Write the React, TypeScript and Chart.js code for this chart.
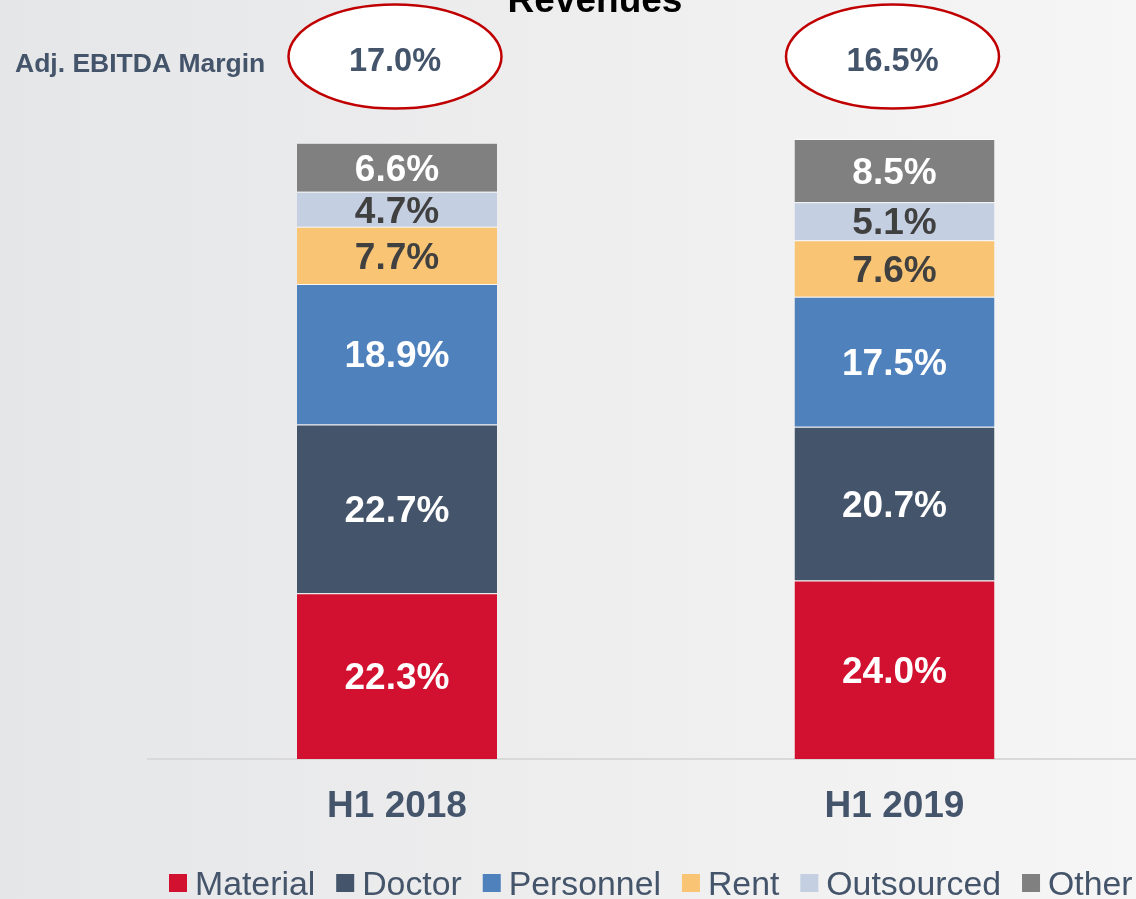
import React, { useEffect, useRef } from 'react';
import { Chart, registerables } from 'chart.js';

Chart.register(...registerables);

const FONT = '"Liberation Sans", Arial, Helvetica, sans-serif';

const categories = ['H1 2018', 'H1 2019'];
const seriesNames = ['Material', 'Doctor', 'Personnel', 'Rent', 'Outsourced', 'Other'];
const material = [22.3, 24.0];
const doctor = [22.7, 20.7];
const personnel = [18.9, 17.5];
const rent = [7.7, 7.6];
const outsourced = [4.7, 5.1];
const other = [6.6, 8.5];
const ebitdaMargin = [17.0, 16.5];
const seriesColors = ['#D2102F', '#44546A', '#4F81BD', '#F9C574', '#C4CFE1', '#808080'];
const labelColors = ['#FFFFFF', '#FFFFFF', '#FFFFFF', '#404040', '#404040', '#FFFFFF'];
const seriesValues = [material, doctor, personnel, rent, outsourced, other];

const backgroundPlugin = {
  id: 'bg',
  beforeDraw(chart: any) {
    const { ctx, width, height } = chart;
    ctx.save();
    const g = ctx.createLinearGradient(0, 0, width, 0);
    g.addColorStop(0, '#E5E6E8');
    g.addColorStop(0.45, '#EDEDEE');
    g.addColorStop(1, '#F6F6F6');
    ctx.fillStyle = g;
    ctx.fillRect(0, 0, width, height);
    ctx.restore();
  },
};

const decorPlugin = {
  id: 'decor',
  afterDraw(chart: any) {
    const { ctx } = chart;
    const xs = chart.scales.x;
    ctx.save();
    // title (cut off at top)
    ctx.fillStyle = '#000000';
    ctx.font = `bold 37px ${FONT}`;
    ctx.textAlign = 'center';
    ctx.textBaseline = 'alphabetic';
    ctx.fillText('Revenues', 595, 12);

    // Adj. EBITDA Margin label
    ctx.fillStyle = '#44546A';
    ctx.font = `bold 26.5px ${FONT}`;
    ctx.textAlign = 'left';
    ctx.fillText('Adj. EBITDA Margin', 15, 72);

    // ellipses
    ebitdaMargin.forEach((v, i) => {
      const cx = xs.getPixelForValue(i) - 2;
      const cy = 56.5;
      ctx.beginPath();
      ctx.ellipse(cx, cy, 106.5, 52, 0, 0, Math.PI * 2);
      ctx.fillStyle = '#FFFFFF';
      ctx.fill();
      ctx.lineWidth = 2.5;
      ctx.strokeStyle = '#C00000';
      ctx.stroke();
      ctx.fillStyle = '#44546A';
      ctx.font = `bold 32.5px ${FONT}`;
      ctx.textAlign = 'center';
      ctx.textBaseline = 'alphabetic';
      ctx.fillText(`${v.toFixed(1)}%`, cx, 71);
    });

    // legend
    ctx.font = `33.8px ${FONT}`;
    ctx.textAlign = 'left';
    ctx.textBaseline = 'alphabetic';
    let x = 169;
    chart.data.datasets.forEach((ds: any) => {
      ctx.fillStyle = ds.backgroundColor;
      ctx.fillRect(x, 874, 18, 18);
      x += 18 + 8;
      ctx.fillStyle = '#44546A';
      ctx.fillText(ds.label, x, 894.5);
      x += ctx.measureText(ds.label).width + 21;
    });
    ctx.restore();
  },
};

const dataLabelPlugin = {
  id: 'dataLabels',
  afterDatasetsDraw(chart: any) {
    const { ctx } = chart;
    ctx.save();
    ctx.font = `bold 37px ${FONT}`;
    ctx.textAlign = 'center';
    ctx.textBaseline = 'middle';
    chart.data.datasets.forEach((ds: any, di: number) => {
      const meta = chart.getDatasetMeta(di);
      meta.data.forEach((el: any, i: number) => {
        const { x, y, base } = el.getProps(['x', 'y', 'base'], true);
        ctx.fillStyle = labelColors[di];
        ctx.fillText(`${Number(ds.data[i]).toFixed(1)}%`, x, (y + base) / 2 + 3);
      });
    });
    ctx.restore();
  },
};

export default function App() {
  const ref = useRef<HTMLCanvasElement | null>(null);

  useEffect(() => {
    if (!ref.current) return;
    const chart = new Chart(ref.current, {
      type: 'bar',
      data: {
        labels: categories,
        datasets: seriesNames.map((name, i) => ({
          label: name,
          data: seriesValues[i],
          backgroundColor: seriesColors[i],
          borderColor: 'rgba(255,255,255,0.55)',
          borderWidth: { top: 1, left: 0, right: 0, bottom: 0 },
          borderSkipped: false,
          categoryPercentage: 1,
          barPercentage: 0.402,
        })),
      },
      options: {
        animation: false,
        responsive: false,
        devicePixelRatio: 1,
        layout: { padding: { top: 15.7, left: 148.25, right: 16.75, bottom: 0 } },
        plugins: {
          legend: { display: false },
          tooltip: { enabled: false },
          title: { display: false },
        },
        scales: {
          x: {
            stacked: true,
            offset: true,
            grid: { display: false, drawTicks: false },
            border: { display: true, color: '#D9D9D9', width: 2 },
            ticks: {
              color: '#44546A',
              font: { family: FONT, size: 37, weight: 'bold' },
              padding: 26,
            },
            afterFit: (s: any) => {
              s.height = 140;
            },
          },
          y: { stacked: true, display: false, min: 0, max: 100 },
        },
      },
      plugins: [backgroundPlugin, dataLabelPlugin, decorPlugin],
    } as any);
    return () => chart.destroy();
  }, []);

  return (
    <div style={{ position: 'fixed', left: 0, top: 0, width: 1136, height: 899, overflow: 'hidden' }}>
      <canvas ref={ref} width={1160} height={899} style={{ display: 'block', width: 1160, height: 899 }} />
    </div>
  );
}
